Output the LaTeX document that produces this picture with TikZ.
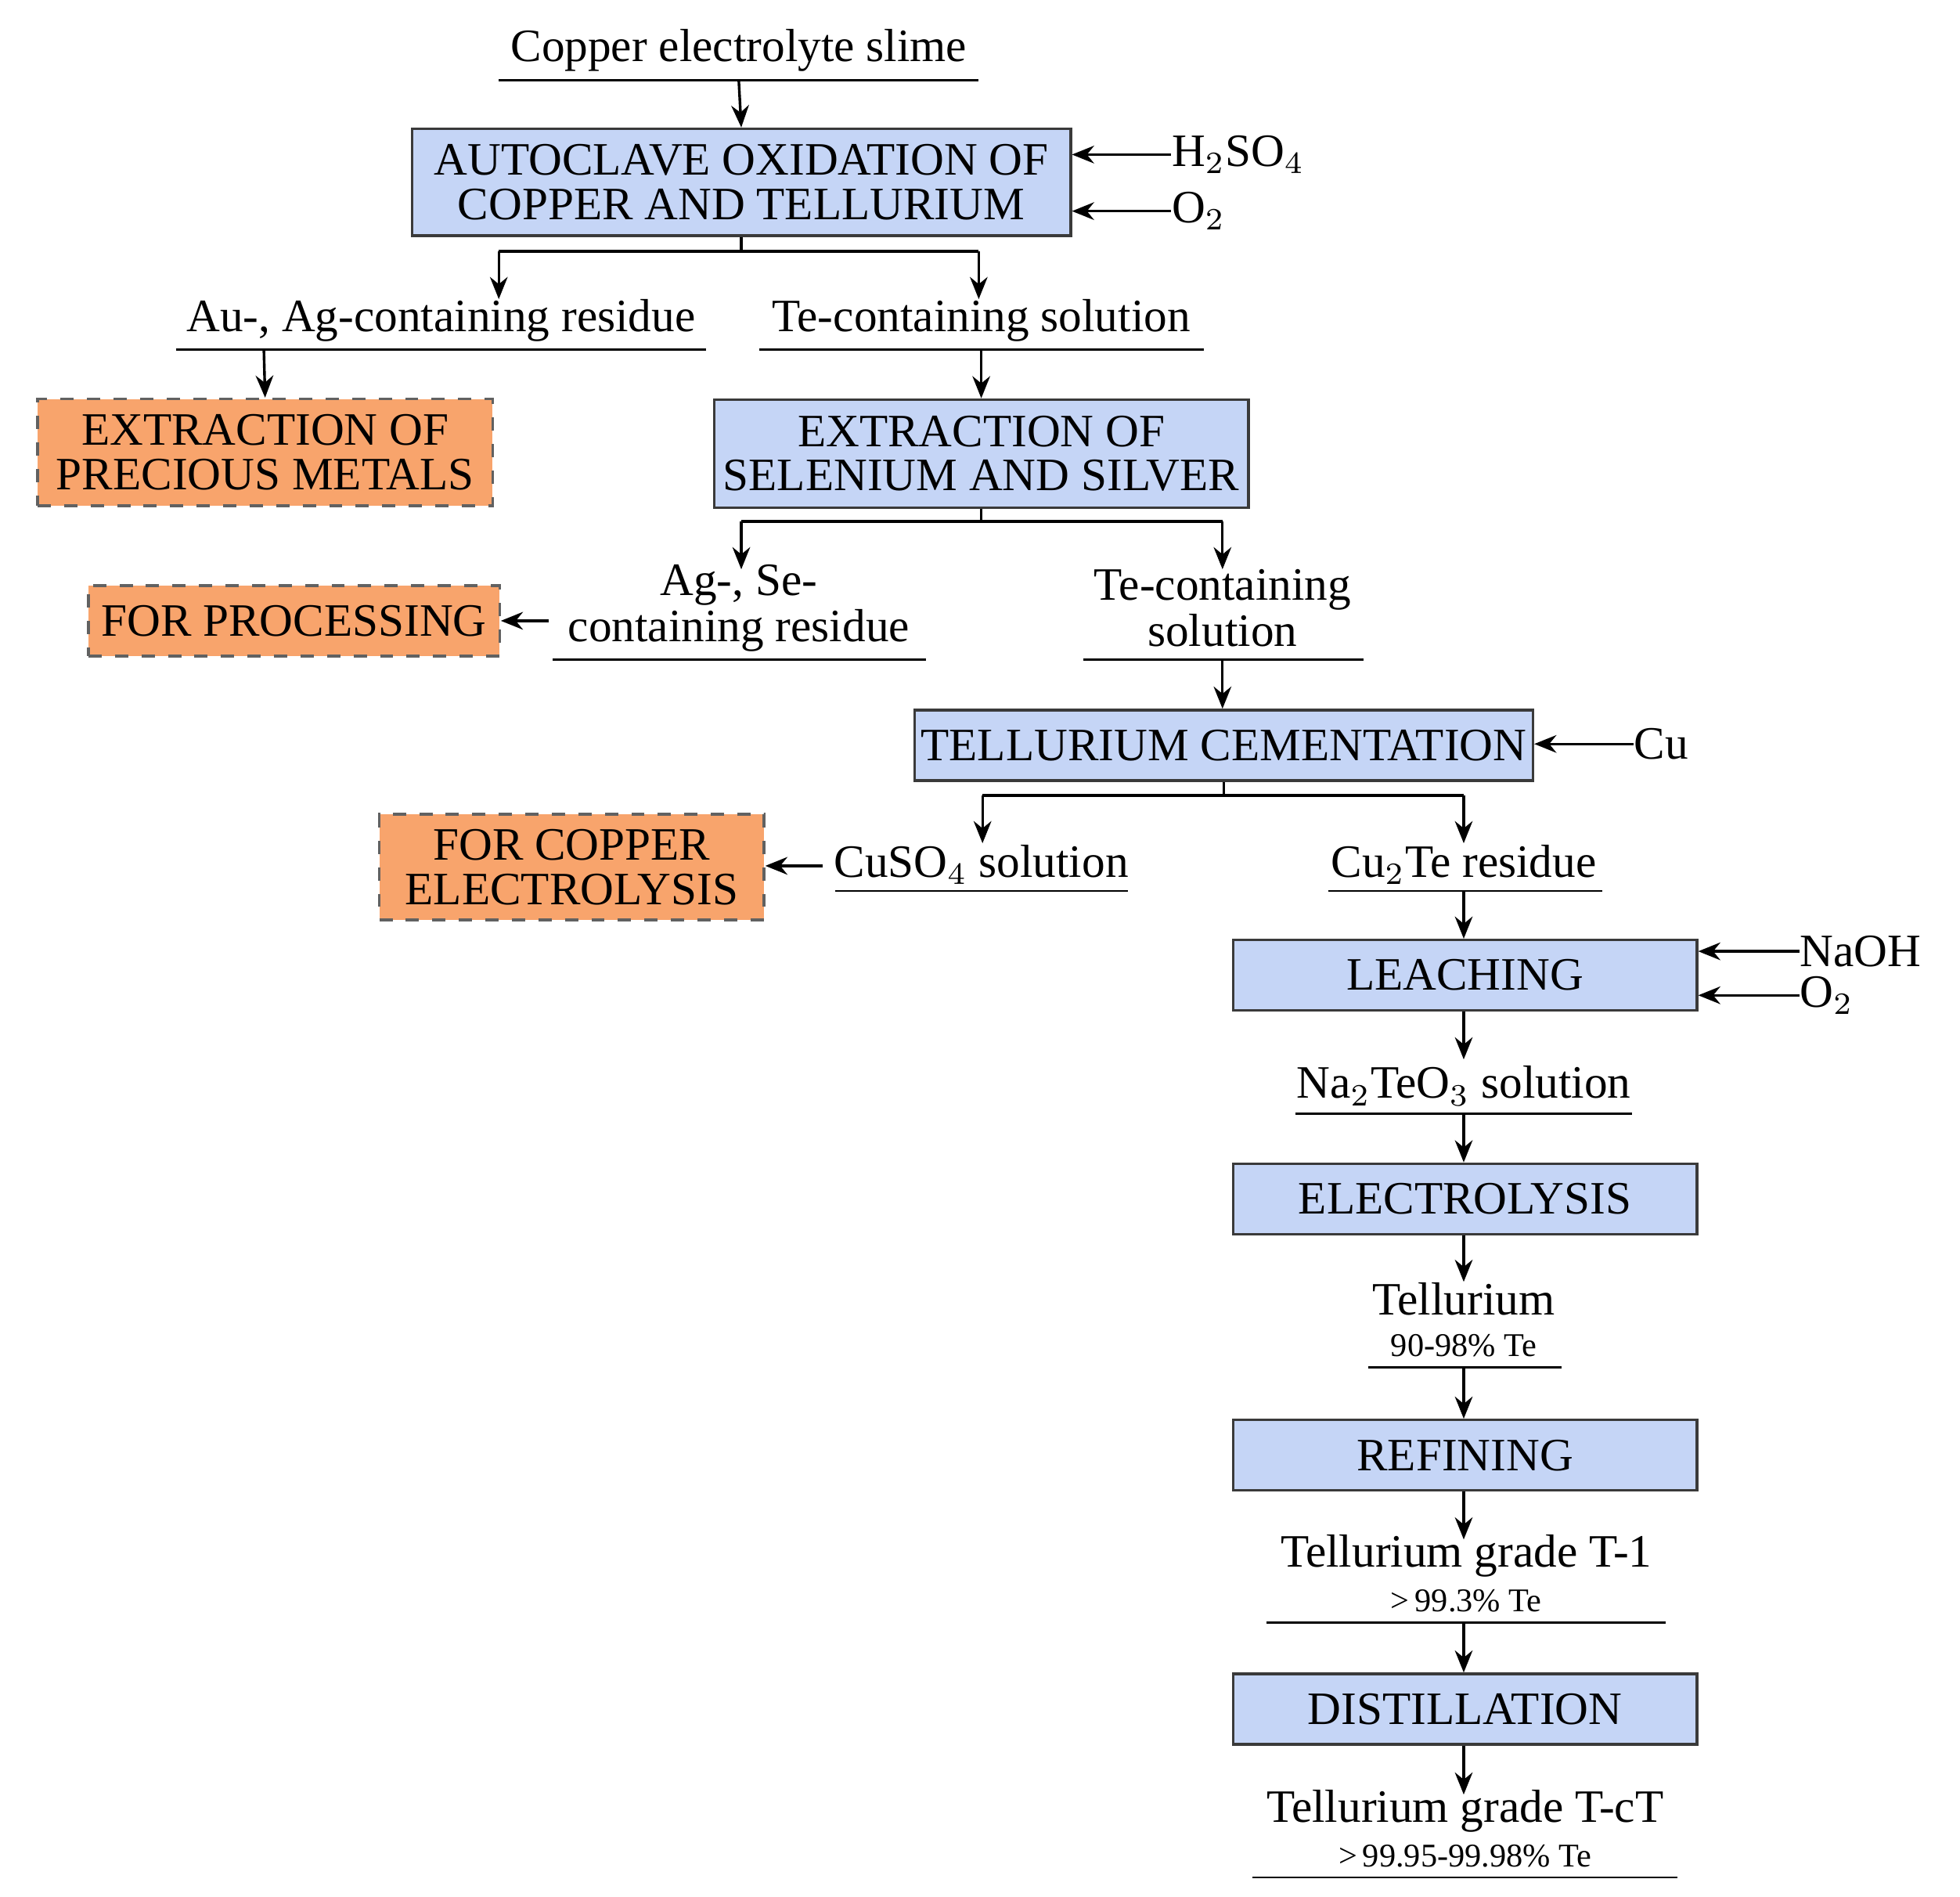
\documentclass[tikz,border=0pt]{standalone}
\usepackage{fontspec}
\setmainfont{Liberation Serif}
\usetikzlibrary{arrows.meta}
\definecolor{bfill}{HTML}{C5D5F6}
\definecolor{ofill}{HTML}{F8A46C}
\definecolor{bdraw}{HTML}{3A3A3A}
\begin{document}
\begin{tikzpicture}[x=0.01cm,y=-0.01cm,
 box/.style={draw=bdraw,fill=bfill,line width=0.6pt,align=center,inner sep=0pt,font=\fontsize{10.5}{10}\selectfont},
 obox/.style={draw=bdraw!80,fill=ofill,dashed,line width=0.6pt,align=center,inner sep=0pt,font=\fontsize{10.5}{10}\selectfont},
 txt/.style={align=center,inner sep=0pt,font=\fontsize{10.5}{10.5}\selectfont},
 sm/.style={inner sep=0pt,font=\fontsize{7.5}{8}\selectfont},
 ul/.style={line width=0.5pt},
 arr/.style={-{Stealth[length=5pt,width=4pt]},line width=0.6pt},
 ln/.style={line width=0.6pt}]
\useasboundingbox (0,0) rectangle (1560,1509);
% boxes
\node[box,minimum width=524\pgflinewidth] (A) at (590,145) [minimum width=5.24cm,minimum height=0.85cm] {AUTOCLAVE OXIDATION OF\\COPPER AND TELLURIUM};
\node[obox,minimum width=3.62cm,minimum height=0.85cm] (EP) at (211,360) {EXTRACTION OF\\PRECIOUS METALS};
\node[box,minimum width=4.25cm,minimum height=0.86cm] (B) at (781,361) {EXTRACTION OF\\SELENIUM AND SILVER};
\node[obox,minimum width=3.27cm,minimum height=0.56cm] (FP) at (234,494) {FOR PROCESSING};
\node[box,minimum width=4.92cm,minimum height=0.56cm] (C) at (974,593) {TELLURIUM CEMENTATION};
\node[obox,minimum width=3.06cm,minimum height=0.84cm] (FC) at (455,690) {FOR COPPER\\ELECTROLYSIS};
\node[box,minimum width=3.69cm,minimum height=0.56cm] (L) at (1166,776) {LEACHING};
\node[box,minimum width=3.69cm,minimum height=0.56cm] (E) at (1166,954) {ELECTROLYSIS};
\node[box,minimum width=3.69cm,minimum height=0.56cm] (R) at (1166,1158) {REFINING};
\node[box,minimum width=3.69cm,minimum height=0.56cm] (D) at (1166,1360) {DISTILLATION};
% texts
\node[txt] (t0) at (588,40) {Copper electrolyte slime};
\draw[ul] (397,64) coordinate (u0) -- (779,64);
\node[txt,anchor=west] (h2) at (932,123) {H$_2$SO$_4$};
\node[txt,anchor=west] (o1) at (932,168) {O$_2$};
\node[txt] (t1) at (351,255) {Au-, Ag-containing residue};
\draw[ul] (140,278) -- (562,278);
\node[txt] (t2) at (781,255) {Te-containing solution};
\draw[ul] (604,278) -- (958,278);
\node[txt] (t3) at (588,484) {Ag-, Se-\\containing residue};
\draw[ul] (440,525) -- (737,525);
\node[txt] (t4) at (973,484) {Te-containing\\solution};
\draw[ul] (862,525) -- (1085,525);
\node[txt,anchor=west] (cu) at (1300,592) {Cu};
\node[txt] (t5) at (781,688) {CuSO$_4$ solution};
\draw[ul] (665,709) -- (898,709);
\node[txt] (t6) at (1165,688) {Cu$_2$Te residue};
\draw[ul] (1057,709) -- (1275,709);
\node[txt,anchor=west] (na) at (1432,757) {NaOH};
\node[txt,anchor=west] (o2) at (1432,792) {O$_2$};
\node[txt] (t7) at (1165,864) {Na$_2$TeO$_3$ solution};
\draw[ul] (1031,886) -- (1299,886);
\node[txt] (t8) at (1165,1034) {Tellurium};
\node[sm] (s8) at (1165,1071) {90-98\% Te};
\draw[ul] (1089,1088) -- (1243,1088);
\node[txt] (t9) at (1167,1238) {Tellurium grade T-1};
\node[sm] (s9) at (1167,1274) {>\,99.3\% Te};
\draw[ul] (1008,1291) -- (1326,1291);
\node[txt] (t10) at (1166,1441) {Tellurium grade T-cT};
\node[sm] (s10) at (1166,1477) {>\,99.95-99.98\% Te};
\draw[ul] (997,1494) -- (1335,1494);
% connectors
\draw[arr] (588,64) -- (A.north);
\draw[arr] (h2.west) -- (A.north east |- h2.west);
\draw[arr] (o1.west) -- (A.north east |- o1.west);
\draw[ln] (A.south) -- (590,200) coordinate (j1);
\draw[arr] (397,200) coordinate (j1a) -- (397,238);
\draw[arr] (779,200) coordinate (j1b) -- (779,238);
\draw[ln] (j1a) -- (j1b);
\draw[arr] (210,278) -- (EP.north);
\draw[arr] (781,278) -- (B.north);
\draw[ln] (B.south) -- (781,415);
\draw[ln] (590,415) coordinate (j2a) -- (973,415) coordinate (j2b);
\draw[arr] (j2a) -- (590,453);
\draw[arr] (j2b) -- (973,453);
\draw[arr] (437,494) -- (FP.east);
\draw[arr] (973,525) -- (C.north -| 973,0);
\draw[arr] (cu.west) -- (C.east |- cu.west);
\draw[ln] (C.south) -- (974,633);
\draw[ln] (782,633) coordinate (j3a) -- (1165,633) coordinate (j3b);
\draw[arr] (j3a) -- (782,671);
\draw[arr] (j3b) -- (1165,671);
\draw[arr] (655,689) -- (FC.east |- 0,689);
\draw[arr] (1165,709) -- (L.north -| 1165,0);
\draw[arr] (na.west) -- (L.east |- na.west);
\draw[arr] (o2.west) -- (L.east |- o2.west);
\draw[arr] (L.south -| 1165,0) -- (1165,843);
\draw[arr] (1165,886) -- (E.north -| 1165,0);
\draw[arr] (E.south -| 1165,0) -- (1165,1020);
\draw[arr] (1165,1088) -- (R.north -| 1165,0);
\draw[arr] (R.south -| 1165,0) -- (1165,1225);
\draw[arr] (1165,1291) -- (D.north -| 1165,0);
\draw[arr] (D.south -| 1165,0) -- (1165,1428);
\end{tikzpicture}
\end{document}
